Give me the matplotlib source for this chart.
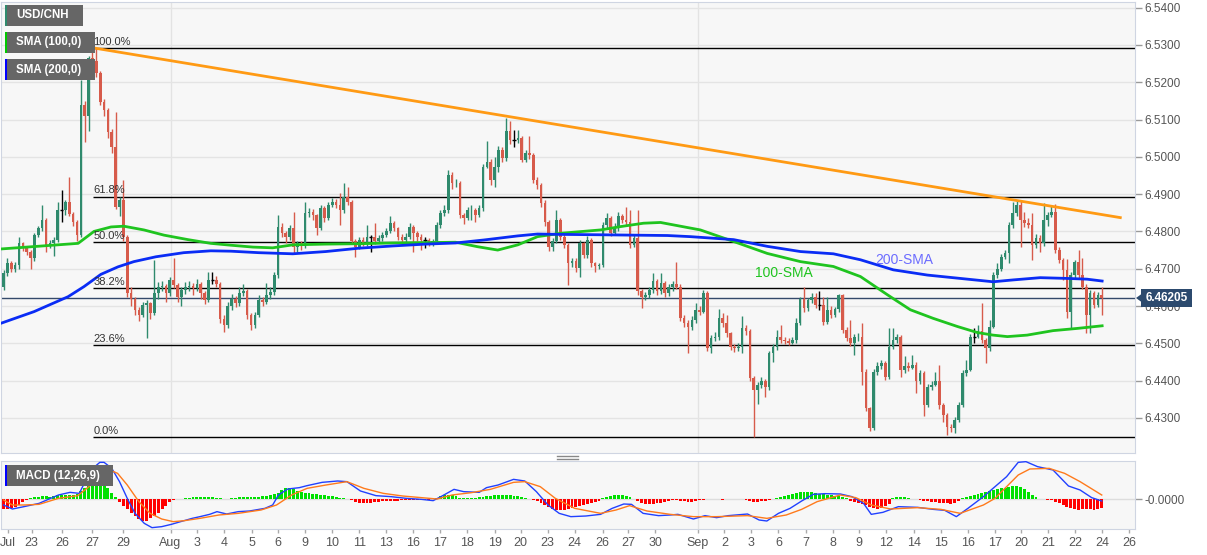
import numpy as np
import matplotlib.pyplot as plt
from matplotlib.patches import Rectangle, Polygon
from matplotlib.lines import Line2D

plt.rcParams['font.family'] = ['Liberation Sans', 'DejaVu Sans']

# ---- USD/CNH 4h candles (open = previous close) ----
first_open = 6.4652
close = [
    6.4688, 6.4715, 6.4700, 6.4710, 6.4768, 6.4755, 6.4746, 6.4728, 6.4790, 6.4808,
    6.4830, 6.4763, 6.4770, 6.4777, 6.4857, 6.4857, 6.4879, 6.4848, 6.4826, 6.4790,
    6.5139, 6.5110, 6.5264, 6.5258, 6.5224, 6.5148, 6.5126, 6.5067, 6.5027, 6.4866,
    6.4884, 6.4786, 6.4634, 6.4620, 6.4589, 6.4576, 6.4603, 6.4607, 6.4580, 6.4634,
    6.4652, 6.4655, 6.4634, 6.4670, 6.4656, 6.4625, 6.4643, 6.4650, 6.4655, 6.4648,
    6.4660, 6.4634, 6.4616, 6.4670, 6.4670, 6.4660, 6.4566, 6.4549, 6.4600, 6.4620,
    6.4607, 6.4634, 6.4640, 6.4576, 6.4550, 6.4576, 6.4616, 6.4612, 6.4630, 6.4638,
    6.4683, 6.4813, 6.4795, 6.4786, 6.4809, 6.4759, 6.4768, 6.4760, 6.4849, 6.4853,
    6.4844, 6.4809, 6.4862, 6.4835, 6.4871, 6.4880, 6.4871, 6.4857, 6.4893, 6.4880,
    6.4773, 6.4759, 6.4777, 6.4768, 6.4786, 6.4786, 6.4773, 6.4782, 6.4790, 6.4800,
    6.4822, 6.4808, 6.4786, 6.4777, 6.4786, 6.4813, 6.4795, 6.4786, 6.4777, 6.4777,
    6.4768, 6.4773, 6.4817, 6.4849, 6.4857, 6.4952, 6.4929, 6.4930, 6.4844, 6.4835,
    6.4857, 6.4858, 6.4844, 6.4862, 6.4974, 6.4987, 6.4938, 6.4974, 6.5019, 6.4996,
    6.5068, 6.5045, 6.5045, 6.5050, 6.4992, 6.5010, 6.5005, 6.4938, 6.4925, 6.4875,
    6.4826, 6.4759, 6.4773, 6.4831, 6.4786, 6.4764, 6.4714, 6.4720, 6.4701, 6.4768,
    6.4737, 6.4777, 6.4714, 6.4706, 6.4710, 6.4817, 6.4835, 6.4795, 6.4808, 6.4840,
    6.4831, 6.4826, 6.4764, 6.4782, 6.4639, 6.4625, 6.4630, 6.4643, 6.4666, 6.4639,
    6.4662, 6.4634, 6.4652, 6.4660, 6.4652, 6.4567, 6.4554, 6.4545, 6.4563, 6.4590,
    6.4585, 6.4634, 6.4487, 6.4514, 6.4518, 6.4567, 6.4554, 6.4527, 6.4491, 6.4487,
    6.4491, 6.4540, 6.4532, 6.4406, 6.4375, 6.4389, 6.4400, 6.4382, 6.4473, 6.4490,
    6.4516, 6.4509, 6.4506, 6.4500, 6.4509, 6.4554, 6.4618, 6.4594, 6.4615, 6.4625,
    6.4603, 6.4603, 6.4558, 6.4590, 6.4576, 6.4591, 6.4630, 6.4536, 6.4514, 6.4500,
    6.4516, 6.4518, 6.4424, 6.4326, 6.4272, 6.4424, 6.4440, 6.4447, 6.4411, 6.4491,
    6.4509, 6.4516, 6.4429, 6.4438, 6.4434, 6.4442, 6.4398, 6.4420, 6.4335, 6.4384,
    6.4389, 6.4398, 6.4335, 6.4308, 6.4277, 6.4272, 6.4295, 6.4335, 6.4420, 6.4429,
    6.4518, 6.4518, 6.4534, 6.4509, 6.4487, 6.4545, 6.4683, 6.4700, 6.4732, 6.4741,
    6.4817, 6.4849, 6.4871, 6.4831, 6.4822, 6.4817, 6.4764, 6.4782, 6.4768, 6.4831,
    6.4844, 6.4853, 6.4750, 6.4724, 6.4697, 6.4585, 6.4683, 6.4719, 6.4683, 6.4652,
    6.4576, 6.4634, 6.4603, 6.4630, 6.4621,
]
high = [
    6.4697, 6.4728, 6.4720, 6.4718, 6.4786, 6.4772, 6.4760, 6.4750, 6.4795, 6.4815,
    6.4870, 6.4835, 6.4778, 6.4785, 6.4880, 6.4911, 6.4885, 6.4946, 6.4852, 6.4830,
    6.5206, 6.5150, 6.5270, 6.5290, 6.5292, 6.5230, 6.5155, 6.5130, 6.5075, 6.5120,
    6.4892, 6.4938, 6.4790, 6.4650, 6.4625, 6.4598, 6.4612, 6.4615, 6.4612, 6.4723,
    6.4665, 6.4668, 6.4660, 6.4678, 6.4728, 6.4662, 6.4652, 6.4665, 6.4668, 6.4662,
    6.4672, 6.4665, 6.4640, 6.4690, 6.4690, 6.4680, 6.4665, 6.4575, 6.4612, 6.4632,
    6.4628, 6.4652, 6.4660, 6.4645, 6.4580, 6.4585, 6.4630, 6.4625, 6.4662, 6.4650,
    6.4690, 6.4844, 6.4822, 6.4800, 6.4818, 6.4853, 6.4775, 6.4775, 6.4880, 6.4862,
    6.4860, 6.4848, 6.4872, 6.4868, 6.4880, 6.4890, 6.4888, 6.4903, 6.4929, 6.4920,
    6.4885, 6.4780, 6.4785, 6.4785, 6.4817, 6.4790, 6.4822, 6.4790, 6.4798, 6.4810,
    6.4840, 6.4828, 6.4812, 6.4792, 6.4795, 6.4822, 6.4817, 6.4800, 6.4792, 6.4785,
    6.4782, 6.4780, 6.4825, 6.4858, 6.4870, 6.4965, 6.4960, 6.4940, 6.4935, 6.4850,
    6.4866, 6.4871, 6.4862, 6.4871, 6.4982, 6.5042, 6.4995, 6.5000, 6.5028, 6.5025,
    6.5104, 6.5095, 6.5072, 6.5072, 6.5055, 6.5018, 6.5055, 6.5010, 6.4945, 6.4930,
    6.4885, 6.4830, 6.4782, 6.4857, 6.4835, 6.4795, 6.4770, 6.4728, 6.4728, 6.4778,
    6.4772, 6.4787, 6.4782, 6.4718, 6.4715, 6.4825, 6.4849, 6.4840, 6.4822, 6.4853,
    6.4848, 6.4865, 6.4858, 6.4790, 6.4858, 6.4645, 6.4638, 6.4652, 6.4688, 6.4672,
    6.4688, 6.4668, 6.4660, 6.4668, 6.4719, 6.4660, 6.4575, 6.4562, 6.4572, 6.4608,
    6.4600, 6.4642, 6.4640, 6.4522, 6.4530, 6.4592, 6.4580, 6.4576, 6.4530, 6.4498,
    6.4500, 6.4572, 6.4548, 6.4538, 6.4412, 6.4395, 6.4410, 6.4405, 6.4480, 6.4498,
    6.4536, 6.4550, 6.4518, 6.4515, 6.4518, 6.4567, 6.4625, 6.4652, 6.4622, 6.4634,
    6.4634, 6.4639, 6.4625, 6.4625, 6.4600, 6.4598, 6.4632, 6.4632, 6.4545, 6.4563,
    6.4525, 6.4528, 6.4554, 6.4430, 6.4330, 6.4432, 6.4450, 6.4455, 6.4452, 6.4541,
    6.4541, 6.4525, 6.4522, 6.4465, 6.4450, 6.4469, 6.4450, 6.4428, 6.4425, 6.4392,
    6.4400, 6.4424, 6.4442, 6.4340, 6.4312, 6.4285, 6.4302, 6.4342, 6.4429, 6.4456,
    6.4525, 6.4540, 6.4549, 6.4609, 6.4515, 6.4563, 6.4690, 6.4715, 6.4740, 6.4750,
    6.4825, 6.4880, 6.4883, 6.4883, 6.4853, 6.4835, 6.4849, 6.4792, 6.4790, 6.4876,
    6.4852, 6.4871, 6.4874, 6.4758, 6.4730, 6.4725, 6.4690, 6.4723, 6.4750, 6.4728,
    6.4660, 6.4642, 6.4640, 6.4638, 6.4650,
]
low = [
    6.4643, 6.4680, 6.4690, 6.4692, 6.4700, 6.4748, 6.4738, 6.4700, 6.4722, 6.4785,
    6.4800, 6.4745, 6.4755, 6.4733, 6.4772, 6.4826, 6.4845, 6.4840, 6.4815, 6.4775,
    6.4785, 6.5041, 6.5070, 6.5235, 6.5215, 6.5140, 6.5110, 6.5050, 6.5010, 6.4860,
    6.4840, 6.4775, 6.4625, 6.4600, 6.4575, 6.4560, 6.4570, 6.4513, 6.4565, 6.4575,
    6.4620, 6.4640, 6.4610, 6.4628, 6.4648, 6.4612, 6.4600, 6.4632, 6.4640, 6.4630,
    6.4640, 6.4620, 6.4605, 6.4610, 6.4658, 6.4650, 6.4555, 6.4530, 6.4540, 6.4590,
    6.4598, 6.4600, 6.4628, 6.4565, 6.4536, 6.4542, 6.4570, 6.4600, 6.4605, 6.4620,
    6.4630, 6.4675, 6.4785, 6.4770, 6.4778, 6.4741, 6.4745, 6.4750, 6.4755, 6.4838,
    6.4830, 6.4790, 6.4805, 6.4825, 6.4830, 6.4865, 6.4862, 6.4817, 6.4850, 6.4870,
    6.4765, 6.4732, 6.4752, 6.4760, 6.4760, 6.4746, 6.4765, 6.4768, 6.4775, 6.4785,
    6.4795, 6.4800, 6.4778, 6.4768, 6.4770, 6.4780, 6.4746, 6.4775, 6.4750, 6.4755,
    6.4760, 6.4762, 6.4768, 6.4810, 6.4840, 6.4850, 6.4915, 6.4918, 6.4835, 6.4820,
    6.4830, 6.4830, 6.4825, 6.4838, 6.4855, 6.4970, 6.4925, 6.4920, 6.4960, 6.4985,
    6.4990, 6.5035, 6.5027, 6.5038, 6.4985, 6.4985, 6.4995, 6.4930, 6.4915, 6.4865,
    6.4815, 6.4748, 6.4748, 6.4768, 6.4778, 6.4755, 6.4656, 6.4705, 6.4690, 6.4679,
    6.4728, 6.4730, 6.4705, 6.4692, 6.4700, 6.4705, 6.4810, 6.4788, 6.4790, 6.4800,
    6.4822, 6.4818, 6.4755, 6.4758, 6.4630, 6.4594, 6.4615, 6.4622, 6.4635, 6.4630,
    6.4632, 6.4625, 6.4628, 6.4640, 6.4645, 6.4560, 6.4545, 6.4473, 6.4535, 6.4555,
    6.4575, 6.4580, 6.4480, 6.4474, 6.4505, 6.4510, 6.4545, 6.4518, 6.4482, 6.4478,
    6.4480, 6.4473, 6.4522, 6.4400, 6.4250, 6.4338, 6.4380, 6.4357, 6.4375, 6.4451,
    6.4482, 6.4500, 6.4498, 6.4495, 6.4498, 6.4502, 6.4548, 6.4585, 6.4588, 6.4608,
    6.4595, 6.4590, 6.4549, 6.4552, 6.4568, 6.4570, 6.4585, 6.4528, 6.4505, 6.4492,
    6.4469, 6.4505, 6.4388, 6.4318, 6.4264, 6.4268, 6.4415, 6.4432, 6.4402, 6.4405,
    6.4485, 6.4500, 6.4411, 6.4420, 6.4425, 6.4430, 6.4366, 6.4390, 6.4304, 6.4330,
    6.4375, 6.4385, 6.4325, 6.4290, 6.4254, 6.4262, 6.4259, 6.4288, 6.4330, 6.4412,
    6.4425, 6.4500, 6.4515, 6.4500, 6.4447, 6.4480, 6.4540, 6.4675, 6.4695, 6.4725,
    6.4715, 6.4810, 6.4840, 6.4759, 6.4812, 6.4808, 6.4724, 6.4755, 6.4746, 6.4760,
    6.4815, 6.4838, 6.4742, 6.4715, 6.4670, 6.4567, 6.4540, 6.4675, 6.4675, 6.4645,
    6.4527, 6.4527, 6.4595, 6.4598, 6.4576,
]

# ---- moving averages, read at candle positions ----
sma100_idx = [-0.6, 19.3, 23.4, 27.8, 31.1, 36.3, 41.5, 47.7, 53.6, 58.8, 64.5, 69.6,
              74.8, 83.3, 91.9, 100.6, 109.2, 116.9, 122.6, 127.8, 133.0, 138.1,
              144.1, 154.4, 159.6, 165.5, 169.9, 177.6, 180.2, 188.8, 197.5, 206.1,
              214.6, 221.6, 228.6, 234.5, 240.4, 246.7, 251.8, 255.9, 259.6, 264.7,
              271.4, 277.7, 284.1]
sma100_val = [6.4753, 6.4768, 6.4800, 6.4812, 6.4814, 6.4804, 6.4790, 6.4778, 6.4768,
              6.4763, 6.4758, 6.4756, 6.4764, 6.4766, 6.4767, 6.4769, 6.4770, 6.4771,
              6.4759, 6.4750, 6.4764, 6.4786, 6.4795, 6.4804, 6.4813, 6.4822, 6.4824,
              6.4809, 6.4804, 6.4773, 6.4741, 6.4719, 6.4706, 6.4679, 6.4630, 6.4590,
              6.4567, 6.4545, 6.4529, 6.4522, 6.4518, 6.4522, 6.4534, 6.4540, 6.4547]
sma200_idx = [-0.6, 7.9, 16.7, 20.8, 25.2, 29.6, 33.7, 39.4, 46.6, 53.6, 58.8, 66.0,
              74.8, 83.3, 91.9, 100.6, 109.2, 116.9, 124.2, 133.0, 138.1, 144.1,
              154.4, 162.9, 171.7, 177.6, 188.8, 197.5, 206.1, 214.6, 221.6, 230.1,
              238.9, 247.4, 255.9, 261.1, 268.1, 275.1, 280.2, 284.1]
sma200_val = [6.4554, 6.4585, 6.4625, 6.4652, 6.4685, 6.4705, 6.4719, 6.4732, 6.4743,
              6.4748, 6.4747, 6.4743, 6.4740, 6.4746, 6.4755, 6.4761, 6.4766, 6.4769,
              6.4777, 6.4788, 6.4793, 6.4792, 6.4791, 6.4790, 6.4789, 6.4786, 6.4778,
              6.4760, 6.4746, 6.4740, 6.4724, 6.4697, 6.4683, 6.4674, 6.4665, 6.4670,
              6.4676, 6.4674, 6.4672, 6.4667]

# ---- MACD (12,26,9) ----
macd_idx = [0, 2.3, 5.3, 9.2, 14.2, 17.2, 19.6, 21.1, 23.1, 24.9, 26.0, 28.0, 30.0,
            32.0, 34.0, 36.4, 38.4, 40.9, 43.4, 45.8, 48.8, 50.8, 53.3, 55.2, 57.7,
            60.7, 63.6, 67.6, 69.6, 71.1, 73.5, 76.5, 78.5, 82.4, 86.4, 88.8, 92.3,
            96.3, 100.2, 104.2, 108.1, 111.1, 113.1, 116.5, 119.0, 123.0, 124.9,
            127.9, 131.9, 134.8, 137.8, 140.8, 143.7, 146.7, 150.6, 154.4, 157.4,
            160.4, 162.4, 165.4, 169.4, 172.4, 174.4, 178.4, 181.4, 184.4, 187.4,
            192.4, 195.4, 197.4, 200.4, 203.4, 206.4, 209.4, 212.4, 216.4, 219.4,
            222.4, 224.4, 227.4, 231.4, 236.4, 240.4, 243.4, 246.4, 249.4, 253.4,
            256.4, 259.4, 262.4, 264.4, 267.4, 271.4, 275.4, 278.4, 281.4, 284.0]
macd_val = [-0.0012, -0.0020, -0.00153, -0.00087, 0.0008, 0.00133, 0.00113, 0.00347,
            0.00613, 0.00733, 0.00733, 0.00613, 0.00347, 0.00013, -0.00287, -0.00487,
            -0.00573, -0.00553, -0.00507, -0.00453, -0.00387, -0.00353, -0.00307,
            -0.00253, -0.0030, -0.00253, -0.0024, -0.00187, -0.0012, 0.0008, 0.0020,
            0.00227, 0.00267, 0.00333, 0.0036, 0.00347, 0.0016, 0.00067, 0.00047,
            0.00013, -0.00007, -0.00033, 0.00047, 0.00193, 0.00147, 0.00133, 0.00227,
            0.0028, 0.00393, 0.0036, 0.00147, -0.0012, -0.00287, -0.00353, -0.0034,
            -0.00307, -0.00187, -0.0010, -0.00107, -0.00287, -0.00333, -0.0032,
            -0.00307, -0.0040, -0.00333, -0.00373, -0.00333, -0.0030, -0.0042,
            -0.0044, -0.00287, -0.00187, -0.0004, 0.00093, 0.00107, 0.0010, 0.00047,
            -0.00087, -0.00307, -0.00267, -0.00153, -0.00167, -0.00207, -0.00227,
            -0.00353, -0.00187, 0.00047, 0.00247, 0.00447, 0.00733, 0.00747, 0.00647,
            0.0058, 0.0026, 0.0018, 0.00027, -0.0004]
signal_idx = [0, 2.3, 5.3, 9.2, 14.2, 19.2, 22.1, 25.1, 27.5, 29.5, 32.0, 35.0, 37.9,
              40.9, 43.9, 46.8, 50.8, 55.7, 60.7, 66.6, 70.6, 74.5, 78.5, 83.4, 88.8,
              93.2, 98.2, 103.2, 108.1, 112.1, 116.0, 121.0, 125.9, 131.9, 134.8,
              138.8, 142.7, 147.7, 154.4, 158.4, 161.9, 166.4, 172.4, 178.4, 184.4,
              192.4, 197.4, 202.4, 206.4, 210.4, 216.4, 220.4, 224.4, 229.4, 236.4,
              242.4, 247.4, 253.4, 256.4, 259.4, 262.4, 265.4, 270.4, 274.4, 278.4,
              284.0]
signal_val = [-0.0002, -0.0012, -0.0012, -0.00107, 0.00013, 0.00067, 0.00247, 0.0048,
              0.0058, 0.00513, 0.0028, -0.00053, -0.00287, -0.0040, -0.00453, -0.00433,
              -0.00387, -0.0032, -0.00287, -0.0022, -0.0012, 0.0008, 0.00213, 0.0028,
              0.00347, 0.00213, 0.00113, 0.0006, 0.00027, 0.0, 0.0008, 0.00127,
              0.00193, 0.00333, 0.00347, 0.00247, 0.00013, -0.00187, -0.00287, -0.0022,
              -0.00133, -0.0024, -0.00307, -0.00353, -0.00353, -0.00333, -0.00387,
              -0.0032, -0.00207, -0.00053, 0.0008, 0.00027, -0.0012, -0.0020, -0.00173,
              -0.00207, -0.00287, -0.0012, 0.00013, 0.00247, 0.0048, 0.0060, 0.00613,
              0.00513, 0.00347, 0.0008]
hist = [
    -0.0019, -0.0019, -0.0017, -0.0015, -0.0012, -0.0006, -0.0002, 0.0003, 0.0004, 0.0005,
    0.0006, 0.0006, 0.0005, 0.0006, 0.0008, 0.0009, 0.0009, 0.0008, 0.0008, 0.0010,
    0.0017, 0.0022, 0.0027, 0.0031, 0.0033, 0.0032, 0.0030, 0.0022, 0.0012, 0.0004,
    -0.0005, -0.0013, -0.0020, -0.0028, -0.0034, -0.0040, -0.0044, -0.0043, -0.0038, -0.0033,
    -0.0027, -0.0020, -0.0013, -0.0006, -0.0001, 0.0000, 0.0001, 0.0002, 0.0003, 0.0004,
    0.0005, 0.0005, 0.0005, 0.0004, 0.0004, 0.0003, 0.0002, 0.0001, 0.0001, 0.0002,
    0.0003, 0.0004, 0.0004, 0.0005, 0.0004, 0.0004, 0.0005, 0.0006, 0.0007, 0.0008,
    0.0010, 0.0013, 0.0018, 0.0022, 0.0023, 0.0021, 0.0017, 0.0015, 0.0013, 0.0012,
    0.0011, 0.0010, 0.0009, 0.0008, 0.0007, 0.0006, 0.0005, 0.0003, 0.0002, 0.0000,
    -0.0002, -0.0005, -0.0007, -0.0008, -0.0008, -0.0007, -0.0006, -0.0005, -0.0004, -0.0004,
    -0.0003, -0.0003, -0.0003, -0.0002, -0.0002, -0.0001, -0.0002, -0.0002, -0.0001, -0.0001,
    -0.0001, 0.0000, 0.0003, 0.0006, 0.0008, 0.0009, 0.0008, 0.0006, 0.0003, 0.0002,
    0.0002, 0.0002, 0.0003, 0.0004, 0.0005, 0.0006, 0.0007, 0.0008, 0.0009, 0.0009,
    0.0009, 0.0008, 0.0007, 0.0006, 0.0004, 0.0002, 0.0001, -0.0001, -0.0004, -0.0007,
    -0.0011, -0.0015, -0.0019, -0.0021, -0.0022, -0.0021, -0.0019, -0.0017, -0.0015, -0.0013,
    -0.0011, -0.0009, -0.0007, -0.0005, -0.0003, 0.0002, 0.0005, 0.0007, 0.0009, 0.0009,
    0.0008, 0.0006, 0.0004, 0.0001, -0.0004, -0.0008, -0.0010, -0.0010, -0.0009, -0.0008,
    -0.0007, -0.0005, -0.0003, -0.0001, -0.0001, -0.0003, -0.0004, -0.0005, -0.0005, -0.0004,
    -0.0002, -0.0001, 0.0000, 0.0001, 0.0001, 0.0000, -0.0001, 0.0000, 0.0001, 0.0001,
    0.0000, 0.0001, -0.0002, -0.0004, -0.0005, -0.0005, -0.0004, -0.0003, -0.0001, 0.0000,
    0.0003, 0.0005, 0.0007, 0.0009, 0.0011, 0.0013, 0.0014, 0.0015, 0.0015, 0.0014,
    0.0013, 0.0011, 0.0010, 0.0009, 0.0008, 0.0007, 0.0006, 0.0004, 0.0002, -0.0004,
    -0.0006, -0.0008, -0.0010, -0.0012, -0.0015, -0.0018, -0.0020, -0.0018, -0.0014, -0.0009,
    0.0002, 0.0004, 0.0005, 0.0004, 0.0002, 0.0001, 0.0000, -0.0002, -0.0003, -0.0004,
    -0.0005, -0.0006, -0.0007, -0.0008, -0.0008, -0.0009, -0.0007, -0.0003, 0.0002, 0.0005,
    0.0007, 0.0009, 0.0011, 0.0013, 0.0015, 0.0017, 0.0019, 0.0021, 0.0022, 0.0023,
    0.0025, 0.0026, 0.0026, 0.0024, 0.0020, 0.0014, 0.0009, 0.0004, 0.0001, 0.0000,
    -0.0001, -0.0002, -0.0005, -0.0008, -0.0011, -0.0015, -0.0018, -0.0020, -0.0021, -0.0020,
    -0.0019, -0.0020, -0.0021, -0.0019, -0.0018,
]

# ---- drawings ----
fib_high, fib_low = 6.5292, 6.4249
fib_ratios = [1.0, 0.618, 0.5, 0.382, 0.236, 0.0]
fib_labels = ['100.0%', '61.8%', '50.0%', '38.2%', '23.6%', '0.0%']
fib_start = 23.2
trend_idx = [23.2, 288.8]
trend_val = [6.5292, 6.4837]
last_price = 6.46205
month_idx = [43.3, 179.5]
price_ticks = [6.43, 6.44, 6.45, 6.46, 6.47, 6.48, 6.49, 6.50, 6.51, 6.52, 6.53, 6.54]

xtick_idx = [1.2, 7.3, 15.1, 22.9, 31.0, 43.2, 50.0, 57.0, 64.2, 71.0, 77.9, 84.9,
             92.0, 98.8, 105.9, 112.8, 119.8, 127.0, 133.7, 140.7, 147.7, 154.9,
             161.6, 168.6, 179.5, 186.4, 193.4, 200.4, 207.4, 214.4, 221.3, 228.3,
             235.4, 242.4, 249.4, 256.4, 263.2, 270.2, 277.1, 284.1, 291.1]
xtick_labels = ['Jul', '23', '26', '27', '29', 'Aug', '3', '4', '5', '6', '9', '10',
                '11', '13', '16', '17', '18', '19', '20', '23', '24', '26', '27', '30',
                'Sep', '2', '3', '6', '7', '8', '9', '12', '14', '15', '16', '17',
                '20', '21', '22', '24', '26']

GREEN_C = '#2f8a6d'
RED_C = '#d75b4b'
BG = '#f7f7f7'
SPINE = '#cfd5e2'
TXT = '#555555'

W, H = 1207, 555
fig = plt.figure(figsize=(W / 100, H / 100), dpi=100)
fig.patch.set_facecolor('white')


def fx(x):
    return x / W


def fy(y):
    return 1 - y / H


ax = fig.add_axes([fx(1), fy(453), fx(1135) - fx(1), (453 - 2) / H])
axm = fig.add_axes([fx(1), fy(529), fx(1135) - fx(1), (529 - 461) / H])

for a in (ax, axm):
    a.set_facecolor(BG)
    for s in a.spines.values():
        s.set_color(SPINE)
    a.set_xlim(-0.65, 292.6)
    for m in month_idx:
        a.axvline(m, color='#e3e3e3', lw=1, zorder=0)

# ---- candles ----
c = np.array(close)
o = np.r_[first_open, c[:-1]]
h = np.maximum(np.array(high), np.maximum(o, c))
l = np.minimum(np.array(low), np.minimum(o, c))
idx = np.arange(len(c))
up = c > o + 0.00004
dn = c < o - 0.00004
dj = ~(up | dn)

ax.vlines(idx[up], l[up], h[up], color=GREEN_C, lw=1, zorder=3)
ax.bar(idx[up], (c - o)[up], bottom=o[up], width=0.68, color=GREEN_C, zorder=3)
ax.vlines(idx[dn], l[dn], h[dn], color=RED_C, lw=1, zorder=3)
ax.bar(idx[dn], (c - o)[dn], bottom=o[dn], width=0.68, color=RED_C, zorder=3)
ax.vlines(idx[dj], l[dj], h[dj], color='black', lw=1, zorder=3)
ax.hlines(c[dj], idx[dj] - 0.4, idx[dj] + 0.4, color='black', lw=1, zorder=3)

# ---- SMAs, trendline, fibs ----
ax.plot(sma100_idx, sma100_val, color='#1fc41f', lw=2, zorder=4)
ax.plot(sma200_idx, sma200_val, color='#0a2cf5', lw=2, zorder=4)
ax.plot(trend_idx, trend_val, color='#ff9a14', lw=2, zorder=5)

for r, lab in zip(fib_ratios, fib_labels):
    lvl = fib_low + r * (fib_high - fib_low)
    ax.hlines(lvl, fib_start, 292.6, color='black', lw=1, zorder=2)
    ax.text(fib_start, lvl + 0.0003, lab, fontsize=8, color='#333333',
            ha='left', va='bottom', zorder=6)

ax.axhline(last_price, color='#34496a', lw=1, zorder=2)

ax.text(225.5, 6.4724, '200-SMA', color='#6c6cff', fontsize=10,
        ha='left', va='center', zorder=6)
ax.text(194.4, 6.4689, '100-SMA', color='#1fc41f', fontsize=10,
        ha='left', va='center', zorder=6)

ax.set_ylim(6.4206, 6.5415)
ax.yaxis.tick_right()
ax.set_yticks(price_ticks)
ax.set_yticklabels(['%.4f' % t for t in price_ticks])
ax.tick_params(axis='y', colors='#999999', labelcolor=TXT, labelsize=8.5,
               length=5, width=1, pad=2)
ax.tick_params(axis='x', bottom=False, labelbottom=False)
ax.grid(axis='y', color='#e4e4e4', lw=1, zorder=0)
ax.set_axisbelow(True)

# ---- MACD panel ----
hv = np.array(hist)
hi = np.arange(len(hv))
axm.bar(hi[hv >= 0], hv[hv >= 0], width=0.75, color='#00e000', zorder=2)
axm.bar(hi[hv < 0], hv[hv < 0], width=0.75, color='#ff0000', zorder=2)
axm.plot(macd_idx, macd_val, color='#2140ff', lw=1, zorder=3)
axm.plot(signal_idx, signal_val, color='#ff7a1c', lw=1, zorder=3)
axm.axhline(0, color='#dddddd', lw=1, zorder=1)
axm.set_ylim(-0.0060, 0.0076)
axm.yaxis.tick_right()
axm.set_yticks([0])
axm.set_yticklabels(['-0.0000'])
axm.set_xticks(xtick_idx)
axm.set_xticklabels(xtick_labels)
axm.tick_params(axis='y', colors='#999999', labelcolor=TXT, labelsize=8.5,
                length=5, width=1, pad=2)
axm.tick_params(axis='x', colors='#aaaaaa', labelcolor=TXT, labelsize=9,
                length=3, width=1, pad=3)


# ---- overlay boxes (figure pixels) ----
def legend_box(x0, y0, x1, y1, text, stripe):
    fig.add_artist(Rectangle((fx(x0), fy(y1)), fx(x1) - fx(x0), (y1 - y0) / H,
                             transform=fig.transFigure, facecolor='#666666',
                             edgecolor='none', zorder=20))
    fig.add_artist(Rectangle((fx(x0), fy(y1)), fx(2), (y1 - y0) / H,
                             transform=fig.transFigure, facecolor=stripe,
                             edgecolor='none', zorder=21))
    fig.text(fx(x0 + 11), fy((y0 + y1) / 2), text, color='white', fontsize=8.3,
             fontweight='bold', ha='left', va='center', zorder=22)


legend_box(5, 5, 83, 26, 'USD/CNH', GREEN_C)
legend_box(5, 32, 95, 53, 'SMA (100,0)', '#00c800')
legend_box(5, 59, 95, 80, 'SMA (200,0)', '#0000ff')
legend_box(5, 465, 113, 486, 'MACD (12,26,9)', '#0000ff')

# last price tag
fig.add_artist(Rectangle((fx(1141), fy(307)), fx(51), 18 / H,
                         transform=fig.transFigure, facecolor='#2c4a6e',
                         edgecolor='none', zorder=20))
fig.add_artist(Polygon([(fx(1136), fy(298)), (fx(1141.5), fy(294)), (fx(1141.5), fy(302))],
                       closed=True, transform=fig.transFigure, facecolor='#2c4a6e',
                       edgecolor='none', zorder=20))
fig.text(fx(1166.5), fy(298), '%.5f' % last_price, color='white', fontsize=8.5,
         fontweight='bold', ha='center', va='center', zorder=22)

# panel resize handle
for yy in (455.5, 458.5):
    fig.add_artist(Line2D([fx(557), fx(578)], [fy(yy), fy(yy)], color='#888888',
                          lw=1, transform=fig.transFigure, zorder=20))

fig.savefig('out.png', dpi=100, facecolor='white')
